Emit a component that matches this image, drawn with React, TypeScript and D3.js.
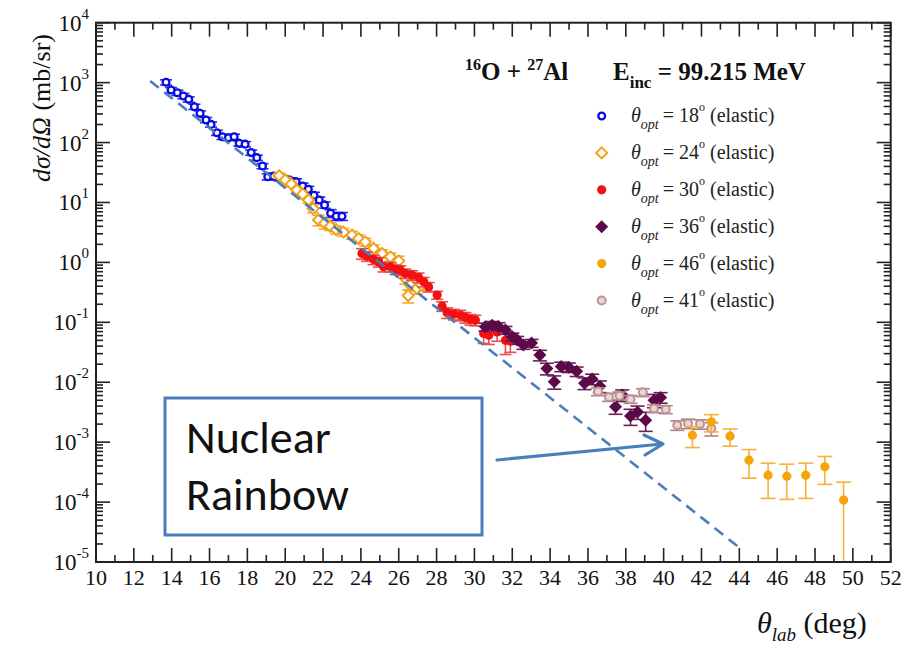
import React from "react";
import * as d3 from "d3";

// ---------- data ----------
const xTickValues = [10, 12, 14, 16, 18, 20, 22, 24, 26, 28, 30, 32, 34, 36, 38, 40, 42, 44, 46, 48, 50, 52];
const yDecades = [-5, -4, -3, -2, -1, 0, 1, 2, 3, 4];

const blueTheta = [13.70, 13.97, 14.30, 14.62, 14.90, 15.20, 15.50, 15.82, 16.08, 16.39, 16.68, 17.00, 17.30, 17.57, 17.88, 18.20, 18.50, 18.80, 19.08, 19.38, 19.70, 20.00, 20.30, 20.58, 20.92, 21.22, 21.52, 21.80, 22.08, 22.40, 22.70, 23.00];
const blueSigma = [1012, 752, 678, 597, 526, 396, 307, 238, 201, 146, 125, 120, 125, 97, 94, 68, 56, 40.5, 26.9, 27.5, 26, 24.5, 23, 22.2, 18.8, 16.6, 13.2, 11, 9.1, 6.6, 5.9, 5.9];
const blueErr = [0.1, 0.1, 0.1, 0.1, 0.1, 0.1, 0.1, 0.1, 0.1, 0.1, 0.1, 0.1, 0.1, 0.1, 0.1, 0.1, 0.1, 0.1, 0.12, 0.12, 0.12, 0.12, 0.12, 0.12, 0.12, 0.12, 0.12, 0.12, 0.12, 0.15, 0.15, 0.15];

const orTheta = [19.68, 20.00, 20.32, 20.62, 20.92, 21.23, 21.47, 21.76, 22.08, 22.38, 22.70, 23.08, 23.53, 23.88, 24.23, 24.67, 25.12, 25.56, 26.00, 26.35, 26.50, 26.61, 26.95, 27.20];
const orSigma = [28, 23.7, 20.3, 16.1, 13.8, 11, 7.9, 5.1, 4.5, 4.0, 3.5, 3.2, 2.86, 2.5, 2.2, 1.71, 1.41, 1.24, 1.06, 0.54, 0.28, 0.42, 0.37, 0.42];
const orErr = [0.1, 0.1, 0.1, 0.12, 0.12, 0.12, 0.15, 0.2, 0.2, 0.15, 0.15, 0.15, 0.15, 0.15, 0.15, 0.15, 0.15, 0.15, 0.2, 0.2, 0.25, 0.2, 0.2, 0.2];

const redTheta = [24.06, 24.32, 24.67, 24.94, 25.20, 25.56, 25.82, 26.08, 26.35, 26.70, 27.05, 27.32, 27.58, 28.03, 28.29, 28.56, 28.91, 29.26, 29.52, 29.79, 30.05, 30.49, 30.76, 31.20, 31.64, 31.90];
const redSigma = [1.41, 1.27, 1.12, 1.02, 0.845, 0.845, 0.764, 0.744, 0.655, 0.614, 0.562, 0.475, 0.39, 0.285, 0.186, 0.145, 0.137, 0.132, 0.121, 0.112, 0.109, 0.0653, 0.061, 0.069, 0.05, 0.0485];
const redErr = [0.2, 0.18, 0.18, 0.18, 0.18, 0.18, 0.18, 0.18, 0.18, 0.18, 0.18, 0.18, 0.18, 0.15, 0.18, 0.2, 0.2, 0.2, 0.2, 0.2, 0.2, 0.32, 0.3, 0.3, 0.42, 0.35];

const purTheta = [30.58, 30.94, 31.27, 31.64, 32.00, 32.26, 32.59, 33.02, 33.46, 33.83, 34.22, 34.59, 34.99, 35.40, 35.82, 36.22, 36.63, 37.46, 37.81, 38.25, 38.62, 39.05, 39.49, 39.84];
const purSigma = [0.084, 0.0897, 0.0855, 0.0742, 0.0573, 0.0505, 0.0417, 0.045, 0.0284, 0.017, 0.0102, 0.0183, 0.0177, 0.0152, 0.00966, 0.01135, 0.0086, 0.00389, 0.0061, 0.00272, 0.0032, 0.00233, 0.005, 0.00558];
const purErr = [0.15, 0.15, 0.15, 0.15, 0.15, 0.15, 0.15, 0.15, 0.2, 0.22, 0.25, 0.18, 0.18, 0.18, 0.22, 0.2, 0.22, 0.25, 0.22, 0.3, 0.25, 0.35, 0.25, 0.2];

const pinkTheta = [36.53, 37.11, 37.67, 38.25, 38.90, 39.49, 40.11, 40.72, 41.29, 41.92, 42.52];
const pinkSigma = [0.00702, 0.00564, 0.00597, 0.00522, 0.00678, 0.00366, 0.00352, 0.00192, 0.00205, 0.0020, 0.00169];
const pinkErr = [0.15, 0.15, 0.15, 0.15, 0.15, 0.15, 0.15, 0.18, 0.18, 0.18, 0.25];

const goldTheta = [41.52, 42.52, 43.51, 44.51, 45.52, 46.51, 47.51, 48.52, 49.51];
const goldSigma = [0.00131, 0.00218, 0.00126, 0.000501, 0.000281, 0.00027, 0.000281, 0.000387, 0.000108];
const goldErr = [0.38, 0.32, 0.32, 0.5, 0.59, 0.59, 0.59, 0.49, 0.99];

const dashTheta = [12.86, 20, 28, 36, 44.04];
const dashSigma = [1065, 17.5, 0.1746, 0.001746, 1.7e-5];

const legendAngles = ["18", "24", "30", "36", "46", "41"];

// ---------- layout ----------
const W = 906, H = 645;
const L = 96, R = 890.7, T = 22.7, B = 562;
const x = d3.scaleLinear().domain([10, 52]).range([L, R]);
const y = d3.scaleLog().domain([1e-5, 1e4]).range([B, T]);
const serif = "'Liberation Serif', 'DejaVu Serif', serif";
const sans = "Carlito, 'Noto Sans', 'Open Sans', sans-serif";

type Kind = "openCircle" | "openDiamond" | "filledCircle" | "filledDiamond" | "ringCircle" | "goldCircle";

const styles: Record<Kind, { color: string; err: string; cap: number }> = {
  openCircle: { color: "#0a0ae6", err: "#2a2af0", cap: 6 },
  openDiamond: { color: "#f2a21a", err: "#f2aa30", cap: 6 },
  filledCircle: { color: "#f41010", err: "#e25050", cap: 6 },
  filledDiamond: { color: "#5c0a47", err: "#6a2058", cap: 7 },
  ringCircle: { color: "#c9a3a3", err: "#b27e8c", cap: 7 },
  goldCircle: { color: "#f5a50a", err: "#f5b23a", cap: 7.5 },
};

function Marker({ kind, cx, cy }: { kind: Kind; cx: number; cy: number }) {
  const c = styles[kind].color;
  switch (kind) {
    case "openCircle":
      return <circle cx={cx} cy={cy} r={3.4} fill="white" stroke={c} strokeWidth={2.3} />;
    case "openDiamond":
      return <path d={`M${cx},${cy - 5.5}L${cx + 5.5},${cy}L${cx},${cy + 5.5}L${cx - 5.5},${cy}Z`} fill="white" stroke={c} strokeWidth={2} />;
    case "filledCircle":
      return <circle cx={cx} cy={cy} r={4.6} fill={c} />;
    case "filledDiamond":
      return <path d={`M${cx},${cy - 6.5}L${cx + 6.5},${cy}L${cx},${cy + 6.5}L${cx - 6.5},${cy}Z`} fill={c} />;
    case "ringCircle":
      return <circle cx={cx} cy={cy} r={4} fill="#e8d6d6" stroke="#b99292" strokeWidth={2} />;
    case "goldCircle":
      return <circle cx={cx} cy={cy} r={4.6} fill={c} />;
  }
}

function Series({ kind, th, sg, er }: { kind: Kind; th: number[]; sg: number[]; er: number[] }) {
  const st = styles[kind];
  return (
    <g>
      {th.map((t, i) => {
        const cx = x(t);
        const v = sg[i];
        const lo = Math.max(v * (1 - er[i]), 1e-5);
        const y1 = y(lo), y2 = y(v * (1 + er[i]));
        return (
          <g key={"e" + i} stroke={st.err} strokeWidth={1.6}>
            <line x1={cx} x2={cx} y1={y1} y2={y2} />
            <line x1={cx - st.cap} x2={cx + st.cap} y1={y2} y2={y2} />
            {lo > 1e-5 && <line x1={cx - st.cap} x2={cx + st.cap} y1={y1} y2={y1} />}
          </g>
        );
      })}
      {th.map((t, i) => (
        <Marker key={"m" + i} kind={kind} cx={x(t)} cy={y(sg[i])} />
      ))}
    </g>
  );
}

export default function App() {
  const xMinor = d3.range(11, 52, 2);
  const yMinor: number[] = [];
  yDecades.slice(0, -1).forEach((d) => {
    for (let k = 2; k <= 9; k++) yMinor.push(k * Math.pow(10, d));
  });
  const dashLine = d3.line<number>().x((_, i) => x(dashTheta[i])).y((d) => y(d))(dashSigma) || "";
  const legendKinds: Kind[] = ["openCircle", "openDiamond", "filledCircle", "filledDiamond", "goldCircle", "ringCircle"];
  const tf = { fontFamily: serif };

  return (
    <div style={{ position: "absolute", left: 0, top: 0 }}>
      <svg width={W} height={H} style={{ display: "block", background: "white" }}>
        {/* series */}
        <Series kind="openCircle" th={blueTheta} sg={blueSigma} er={blueErr} />
        <Series kind="openDiamond" th={orTheta} sg={orSigma} er={orErr} />
        <Series kind="filledCircle" th={redTheta} sg={redSigma} er={redErr} />
        <Series kind="filledDiamond" th={purTheta} sg={purSigma} er={purErr} />
        <Series kind="ringCircle" th={pinkTheta} sg={pinkSigma} er={pinkErr} />
        <Series kind="goldCircle" th={goldTheta} sg={goldSigma} er={goldErr} />

        {/* dashed reference curve */}
        <path d={dashLine} fill="none" stroke="#4a7ebb" strokeWidth={2.6} strokeDasharray="11 7" />

        {/* frame + ticks */}
        <rect x={L} y={T} width={R - L} height={B - T} fill="none" stroke="#222" strokeWidth={2} />
        <g stroke="#222" strokeWidth={1.6}>
          {xTickValues.map((v) => (
            <g key={"xt" + v}>
              <line x1={x(v)} x2={x(v)} y1={B} y2={B - 14} />
              <line x1={x(v)} x2={x(v)} y1={T} y2={T + 14} />
            </g>
          ))}
          {xMinor.map((v) => (
            <g key={"xm" + v}>
              <line x1={x(v)} x2={x(v)} y1={B} y2={B - 7} />
              <line x1={x(v)} x2={x(v)} y1={T} y2={T + 7} />
            </g>
          ))}
          {yDecades.map((d) => (
            <g key={"yt" + d}>
              <line x1={L} x2={L + 14} y1={y(Math.pow(10, d))} y2={y(Math.pow(10, d))} />
              <line x1={R} x2={R - 14} y1={y(Math.pow(10, d))} y2={y(Math.pow(10, d))} />
            </g>
          ))}
          {yMinor.map((v, i) => (
            <g key={"ym" + i}>
              <line x1={L} x2={L + 7} y1={y(v)} y2={y(v)} />
              <line x1={R} x2={R - 7} y1={y(v)} y2={y(v)} />
            </g>
          ))}
        </g>

        {/* tick labels */}
        {xTickValues.map((v) => (
          <text key={"xl" + v} x={x(v)} y={585} fontSize={22} textAnchor="middle" fill="#111" style={tf}>
            {v}
          </text>
        ))}
        {yDecades.map((d) => (
          <text key={"yl" + d} x={89} y={y(Math.pow(10, d)) + 8} fontSize={23} textAnchor="end" fill="#111" style={tf}>
            10
            <tspan dy={-12} fontSize={15}>{d}</tspan>
          </text>
        ))}

        {/* axis titles */}
        <text transform="translate(50,108) rotate(-90)" fontSize={26} textAnchor="middle" fill="#111" style={tf}>
          <tspan fontStyle="italic">dσ/dΩ</tspan> (mb/sr)
        </text>
        <text x={757} y={633} fontSize={30} fill="#111" style={tf}>
          <tspan fontStyle="italic">θ</tspan>
          <tspan fontStyle="italic" fontSize={19} dy={8}>lab</tspan>
          <tspan dy={-8}> (deg)</tspan>
        </text>

        {/* title */}
        <text x={465} y={80} fontSize={25} fontWeight="bold" fill="#111" style={tf}>
          <tspan fontSize={16} dy={-10}>16</tspan>
          <tspan dy={10}>O + </tspan>
          <tspan fontSize={16} dy={-10}>27</tspan>
          <tspan dy={10}>Al</tspan>
        </text>
        <text x={613} y={80} fontSize={25} fontWeight="bold" fill="#111" style={tf}>
          E<tspan fontSize={17} dy={8}>inc</tspan>
          <tspan dy={-8}> = 99.215 MeV</tspan>
        </text>

        {/* legend */}
        {legendKinds.map((k, i) => {
          const ry = 116 + i * 36.9;
          return (
            <g key={"lg" + i}>
              <Marker kind={k} cx={601.7} cy={ry} />
              <text x={631} y={ry + 6} fontSize={20} fill="#222" style={tf}>
                <tspan fontStyle="italic">θ</tspan>
                <tspan fontStyle="italic" fontSize={14} dy={7}>opt</tspan>
                <tspan dy={-7} dx={4}>= {legendAngles[i]}</tspan>
                <tspan fontSize={12} dy={-11}>o</tspan>
                <tspan dy={11}> (elastic)</tspan>
              </text>
            </g>
          );
        })}

        {/* annotation */}
        <rect x={165} y={398} width={317} height={137} fill="white" stroke="#4a7ebb" strokeWidth={3} />
        <text x={186} y={453} fontSize={46} fill="#111" style={{ fontFamily: sans }}>
          Nuclear
        </text>
        <text x={186} y={510} fontSize={46} fill="#111" style={{ fontFamily: sans }}>
          Rainbow
        </text>
        <g stroke="#4a7ebb" strokeWidth={3.2} fill="none" strokeLinecap="round" strokeLinejoin="round">
          <line x1={497} y1={460} x2={662} y2={444} />
          <polyline points="644,435 663,444 645,455" />
        </g>
      </svg>
    </div>
  );
}
